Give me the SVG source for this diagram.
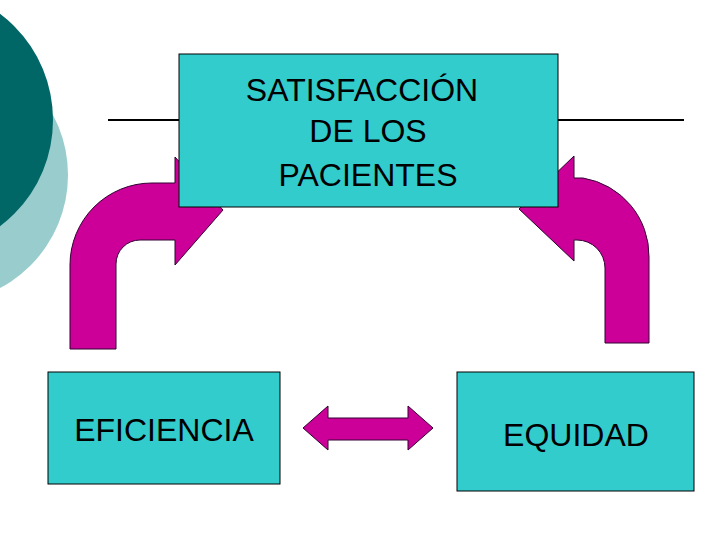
<svg xmlns="http://www.w3.org/2000/svg" width="720" height="540" viewBox="0 0 720 540">
<style>
.box{fill:#33CCCC;stroke:#000;stroke-width:1}
.arr{fill:#CC0099;stroke:#330033;stroke-width:1}
text{font-family:"Liberation Sans",Arial,sans-serif;font-size:32px;fill:#000;text-anchor:middle}
</style>
<rect width="720" height="540" fill="#fff"/>
<circle cx="-60" cy="175" r="128" fill="#99CCCC"/>
<circle cx="-80" cy="120" r="133" fill="#006666"/>
<line x1="108" y1="120" x2="684" y2="120" stroke="#000" stroke-width="2"/>
<g id="connectors">
<path class="arr" d="M70,349 V265 A82,82 0 0 1 152,183 H175 V157 L223,210 L175,265 V240 H140 A24,24 0 0 0 116,264 V349 Z"/>
<path class="arr" d="M649,343 V257 A79,79 0 0 0 583,178 H574 V156 L519,209 L574,261 V240 H577 A28,28 0 0 1 605,268 V343 Z"/>
<path class="arr" d="M303,428 L328,406 V418 H408 V406 L433,428 L408,450 V440 H328 V450 Z"/>
</g>
<g id="satisfaccion">
<rect class="box" x="179" y="54" width="379" height="153"/>
<text x="362" y="101">SATISFACCIÓN</text>
<text x="368" y="142">DE LOS</text>
<text x="368" y="186">PACIENTES</text>
</g>
<g id="eficiencia">
<rect class="box" x="48" y="372" width="232" height="112"/>
<text x="164" y="441">EFICIENCIA</text>
</g>
<g id="equidad">
<rect class="box" x="457" y="372" width="237" height="119"/>
<text x="576" y="446">EQUIDAD</text>
</g>
</svg>
